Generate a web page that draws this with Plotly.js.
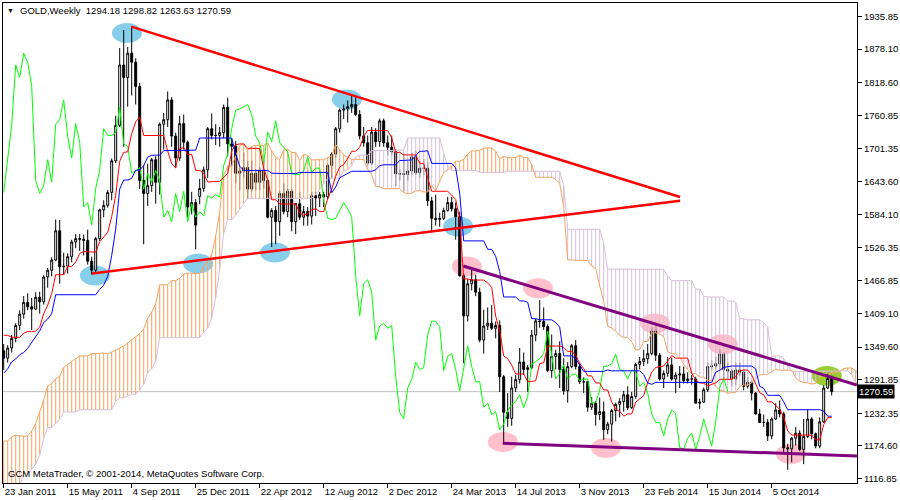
<!DOCTYPE html>
<html><head><meta charset="utf-8">
<script src="https://cdn.plot.ly/plotly-3.0.1.min.js"></script>
<style>html,body{margin:0;padding:0;background:#fff;}#chart{width:900px;height:500px;}</style>
</head><body><div id="chart"></div>
<script>
// Weekly GOLD candles, index 0 = week of 23 Jan 2011 (one holiday week absent at New Year 2012 and 2015)
const opens = [1343,1330,1348,1365,1388,1408,1429,1421,1417,1438, 1430,1474,1486,1504,1556,1492,1493,1510,1536,1542,
 1541,1539,1502,1486,1542,1593,1601,1624,1680,1743, 1850,1828,1871,1855,1812,1645,1622,1636,1682,1642,
 1745,1753,1788,1724,1685,1746,1713,1598,1606,1617, 1631,1664,1737,1725,1725,1730,1775,1710,1706,1658,
 1662,1668,1630,1658,1642,1663,1645,1580,1592,1572, 1622,1590,1626,1572,1604,1580,1590,1582,1618,1614,
 1620,1616,1672,1692,1737,1770,1772,1776,1780,1762, 1724,1712,1676,1731,1714,1751,1712,1704,1696,1657,
 1657,1656,1662,1687,1659,1667,1667,1609,1578,1576, 1578,1592,1606,1595,1581,1476,1405,1462,1469,1447,
 1362,1387,1392,1383,1388,1297,1234,1223,1277,1292, 1323,1310,1313,1371,1396,1395,1386,1308,1333,1338,
 1310,1272,1315,1352,1315,1288,1288,1243,1250,1230, 1235,1203,1213,1237,1248,1253,1265,1242,1262,1319,
 1324,1329,1338,1378,1335,1293,1303,1318,1293,1300, 1302,1290,1293,1293,1250,1252,1274,1315,1316,1320,
 1337,1310,1307,1293,1309,1305,1280,1287,1268,1231, 1216,1216,1192,1222,1238,1231,1171,1169,1188,1197,
 1168,1191,1222,1196,1174,1217,1277,1294.18];
const highs = [1355,1353,1371,1392,1415,1440,1445,1437,1447,1448, 1477,1490,1509,1576,1575,1517,1516,1540,1550,1550,
 1549,1558,1510,1545,1595,1610,1628,1684,1760,1880, 1912,1882,1918,1862,1818,1672,1675,1685,1688,1748,
 1765,1803,1793,1730,1760,1762,1716,1625,1612,1648, 1670,1740,1764,1745,1740,1780,1792,1720,1715,1668,
 1695,1680,1680,1665,1668,1680,1648,1596,1600,1627, 1640,1630,1630,1605,1625,1600,1598,1625,1625,1625,
 1625,1675,1695,1740,1773,1780,1787,1796,1795,1770, 1740,1725,1740,1738,1755,1755,1725,1725,1700,1665,
 1693,1680,1695,1697,1680,1683,1678,1616,1620,1588, 1597,1616,1616,1606,1590,1480,1470,1488,1478,1455,
 1416,1420,1424,1395,1397,1300,1268,1297,1300,1348, 1340,1318,1380,1400,1433,1420,1390,1372,1345,1360,
 1330,1323,1355,1362,1322,1296,1290,1261,1254,1260, 1253,1217,1240,1251,1259,1272,1280,1270,1322,1332,
 1345,1355,1385,1392,1339,1308,1332,1331,1305,1316, 1315,1305,1300,1297,1258,1278,1322,1326,1332,1345,
 1340,1322,1312,1322,1322,1310,1296,1290,1270,1240, 1230,1222,1225,1250,1255,1235,1178,1190,1208,1202,
 1222,1238,1225,1198,1225,1282,1307,1298.82];
const lows = [1309,1322,1340,1358,1380,1400,1415,1380,1415,1409, 1425,1455,1475,1502,1462,1478,1480,1500,1525,1520,
 1512,1496,1478,1480,1538,1580,1597,1610,1676,1740, 1705,1776,1796,1780,1630,1532,1600,1625,1604,1620,
 1700,1740,1705,1667,1680,1700,1580,1585,1523,1603, 1625,1650,1718,1708,1705,1720,1688,1670,1640,1628,
 1650,1612,1625,1628,1628,1630,1578,1527,1532,1547, 1585,1580,1555,1550,1575,1565,1565,1567,1582,1598,
 1598,1612,1650,1685,1730,1754,1748,1765,1760,1718, 1705,1672,1672,1705,1705,1705,1690,1690,1635,1645,
 1626,1645,1655,1655,1650,1655,1600,1555,1565,1563, 1575,1590,1590,1540,1475,1321,1395,1450,1440,1358,
 1338,1380,1380,1365,1270,1180,1208,1210,1270,1285, 1300,1270,1310,1360,1384,1380,1305,1295,1310,1277,
 1265,1251,1312,1310,1284,1268,1235,1238,1210,1220, 1185,1195,1182,1218,1225,1235,1238,1240,1258,1310,
 1316,1320,1335,1325,1290,1277,1297,1290,1268,1277, 1285,1285,1283,1250,1240,1250,1270,1308,1310,1310,
 1292,1292,1280,1282,1298,1273,1276,1255,1230,1215, 1208,1183,1186,1221,1225,1160,1132,1145,1175,1165,
 1142,1188,1186,1170,1170,1215,1275,1263.63];
const closes = [1330,1348,1365,1388,1408,1429,1421,1417,1438,1430, 1474,1486,1504,1556,1492,1493,1510,1536,1542,1541,
 1539,1502,1486,1542,1593,1601,1624,1680,1743,1850, 1828,1871,1855,1812,1645,1622,1636,1682,1642,1745,
 1753,1788,1724,1685,1746,1713,1598,1606,1566,1631, 1664,1737,1725,1725,1730,1775,1710,1706,1658,1662,
 1668,1630,1658,1642,1663,1645,1580,1592,1572,1622, 1590,1626,1572,1604,1580,1590,1582,1618,1614,1620,
 1616,1672,1692,1737,1770,1772,1776,1780,1762,1724, 1712,1676,1731,1714,1751,1712,1704,1696,1657,1657,
 1656,1662,1687,1659,1667,1667,1609,1578,1576,1578, 1592,1606,1595,1581,1476,1405,1462,1469,1447,1362,
 1387,1392,1383,1388,1297,1234,1223,1277,1292,1323, 1310,1313,1371,1396,1395,1386,1308,1333,1338,1310,
 1272,1315,1352,1315,1288,1288,1243,1250,1230,1235, 1203,1213,1237,1248,1253,1265,1242,1262,1319,1324,
 1329,1338,1378,1335,1293,1303,1318,1293,1300,1302, 1290,1293,1293,1250,1252,1274,1315,1316,1320,1337,
 1310,1307,1293,1309,1305,1280,1287,1268,1231,1216, 1216,1192,1222,1238,1231,1171,1169,1188,1197,1168,
 1191,1222,1196,1174,1217,1277,1294,1270.59];
// 78 earlier weeks (Jul 2009 - Jan 2011), only needed by the Ichimoku look-back windows
const preHigh = [960,972,962,955,960,1000,1010,1024,1020,1010,1060,1070,1070,1062,1100,1120,1150,1195,1227,1170,1145,1110,1120,
 1140,1160,1140,1110,1125,1080,1125,1120,1140,1125,1130,1110,1130,1165,1170,1150,1180,1210,1250,1230,1215,1230,1250,1265,1265,1260,
 1215,1215,1200,1185,1210,1220,1235,1245,1255,1260,1280,1300,1320,1350,1388,1375,1350,1398,1424,1390,1380,1415,1432,1400,1395,1425,
 1425,1390,1375];
const preLow = [934,947,935,932,937,945,990,995,990,985,995,1040,1040,1026,1040,1090,1110,1130,1160,1115,1100,1075,1090,
 1115,1120,1090,1075,1045,1045,1075,1095,1110,1100,1100,1087,1100,1120,1135,1132,1140,1165,1200,1165,1180,1195,1210,1225,1230,1195,
 1190,1195,1175,1157,1175,1190,1215,1225,1240,1240,1250,1270,1290,1310,1340,1320,1315,1340,1365,1330,1340,1360,1380,1370,1365,1370,
 1354,1357,1335];
const dateTickIdx = [0,16,32,48,64,80,96,112,128,144,160,176,192];
const dateTickText = ['23 Jan 2011','15 May 2011','4 Sep 2011','25 Dec 2011','22 Apr 2012','12 Aug 2012','2 Dec 2012',
 '24 Mar 2013','14 Jul 2013','3 Nov 2013','23 Feb 2014','15 Jun 2014','5 Oct 2014'];
const priceTicks = [1116.85,1174.60,1232.35,1291.85,1349.60,1409.10,1466.85,1526.35,1584.10,1643.60,1701.35,1760.85,1818.60,1878.10,1935.85];
// hand-drawn objects (bar index, price)
const redLines = [[31.9,1918.0,169.1,1615.9],[22.1,1480.0,169.1,1609.3]];
const purpleLines = [[114.9,1493.5,213.3,1282.4],[124.75,1179.0,213.3,1156.4]];
const blueMarks = [[30.8,1906.8],[22.8,1476.7],[48.6,1498.0],[67.8,1517.5],[85.8,1788.9],[113.6,1563.7]];
const pinkMarks = [[115.8,1492.8],[133.6,1453.8],[162.8,1391.7],[179.8,1354.5],[124.8,1181.4],[150.6,1170.8],[196.8,1160.1]];
const greenMarks = [[205.8,1298.5]];

// ---- Ichimoku (9, 26, 52) ----
const allH = preHigh.concat(highs), allL = preLow.concat(lows), OFF = preHigh.length;
function mid(k, n){ let hi=-Infinity, lo=Infinity; for(let j=k-n+1;j<=k;j++){ if(j<0) continue; if(allH[j]>hi) hi=allH[j]; if(allL[j]<lo) lo=allL[j]; } return (hi+lo)/2; }
const N = closes.length, idx = closes.map((_,i)=>i);
const tenkan = idx.map(i=>mid(i+OFF,9));
const kijun = idx.map(i=>mid(i+OFF,26));
const spanX=[], spanA=[], spanB=[];
for(let j=0;j<=215;j++){ const s=j-26+OFF; spanX.push(j); spanA.push((mid(s,9)+mid(s,26))/2); spanB.push(mid(s,52)); }
const chX=[], chY=[];
for(let i=0;i+26<N;i++){ chX.push(i); chY.push(closes[i+26]); }
const hUpX=[],hUpY=[],hDnX=[],hDnY=[];
spanX.forEach((j,k)=>{ if(spanA[k]>=spanB[k]){hUpX.push(j,j,null);hUpY.push(spanA[k],spanB[k],null);} else {hDnX.push(j,j,null);hDnY.push(spanA[k],spanB[k],null);} });

const FONT = {family:'Liberation Sans, Arial, sans-serif', size:9.5, color:'#000'};
const traces = [
 {type:'scatter',mode:'lines',x:hUpX,y:hUpY,line:{color:'#F4A460',width:1},hoverinfo:'skip'},
 {type:'scatter',mode:'lines',x:hDnX,y:hDnY,line:{color:'#D8BFD8',width:1},hoverinfo:'skip'},
 {type:'scatter',mode:'lines',x:spanX,y:spanA,line:{color:'#F4A460',width:1},hoverinfo:'skip'},
 {type:'scatter',mode:'lines',x:spanX,y:spanB,line:{color:'#D8BFD8',width:1},hoverinfo:'skip'},
 {type:'scatter',mode:'lines',x:chX,y:chY,line:{color:'#00FF00',width:1},hoverinfo:'skip'},
 {type:'candlestick',x:idx,open:opens,high:highs,low:lows,close:closes,whiskerwidth:0,
  increasing:{line:{color:'#000',width:1},fillcolor:'#fff'},decreasing:{line:{color:'#000',width:1},fillcolor:'#000'},hoverinfo:'skip'},
 {type:'scatter',mode:'lines',x:idx,y:tenkan,line:{color:'#FF0000',width:1},hoverinfo:'skip'},
 {type:'scatter',mode:'lines',x:idx,y:kijun,line:{color:'#0000FF',width:1},hoverinfo:'skip'}
];
const RX=3.75, RY=17.7, shapes=[];
const last = N-1;
shapes.push({type:'line',xref:'paper',x0:0,x1:1,yref:'y',y0:closes[last],y1:closes[last],line:{color:'#C0C0C0',width:1},layer:'below'});
function ell(list,color){ list.forEach(m=>shapes.push({type:'circle',xref:'x',yref:'y',x0:m[0]-RX,x1:m[0]+RX,y0:m[1]-RY,y1:m[1]+RY,fillcolor:color,line:{width:0},layer:'below'})); }
ell(blueMarks,'#87CEEB'); ell(pinkMarks,'#FFC0CB'); ell(greenMarks,'#9ACD32');
redLines.forEach(l=>shapes.push({type:'line',xref:'x',yref:'y',x0:l[0],y0:l[1],x1:l[2],y1:l[3],line:{color:'#FF0000',width:2.5}}));
purpleLines.forEach(l=>shapes.push({type:'line',xref:'x',yref:'y',x0:l[0],y0:l[1],x1:l[2],y1:l[3],line:{color:'#800080',width:3}}));

const f2 = v=>v.toFixed(2);
const layout = {
 width:900,height:500,margin:{l:3,r:43,t:3,b:17},paper_bgcolor:'#fff',plot_bgcolor:'#fff',showlegend:false,
 font:FONT,dragmode:false,
 xaxis:{range:[-0.175,213.325],tickvals:dateTickIdx,ticktext:dateTickText,ticks:'outside',ticklen:4,tickcolor:'#000',
  ticklabelposition:'outside right',showline:true,linecolor:'#000',linewidth:1,mirror:true,showgrid:false,zeroline:false,
  rangeslider:{visible:false},fixedrange:true,tickfont:FONT},
 yaxis:{side:'right',range:[1108.5,1960.0],tickvals:priceTicks,ticktext:priceTicks.map(f2),ticks:'outside',ticklen:4,tickcolor:'#000',
  showline:true,linecolor:'#000',linewidth:1,mirror:true,showgrid:false,zeroline:false,fixedrange:true,tickfont:FONT},
 shapes:shapes,
 annotations:[
  {xref:'paper',yref:'paper',x:0.0082,y:0.985,xanchor:'center',yanchor:'middle',text:'▼',showarrow:false,font:{family:FONT.family,size:7,color:'#000'}},
  {xref:'paper',yref:'paper',x:0.0176,y:0.985,xanchor:'left',yanchor:'middle',showarrow:false,font:FONT,
   text:'GOLD,Weekly  '+f2(opens[last])+' '+f2(highs[last])+' '+f2(lows[last])+' '+f2(closes[last])},
  {xref:'paper',yref:'paper',x:0.004,y:0.019,xanchor:'left',yanchor:'middle',showarrow:false,font:FONT,
   text:'GCM MetaTrader, © 2001-2014, MetaQuotes Software Corp.'},
  {xref:'paper',yref:'y',x:1,y:closes[last],xanchor:'left',yanchor:'middle',showarrow:false,text:f2(closes[last]),
   bgcolor:'#000',borderpad:1,font:{family:FONT.family,size:9.5,color:'#fff'}}
 ]
};
Plotly.newPlot('chart',traces,layout,{staticPlot:true,displayModeBar:false});
</script>
</body></html>
